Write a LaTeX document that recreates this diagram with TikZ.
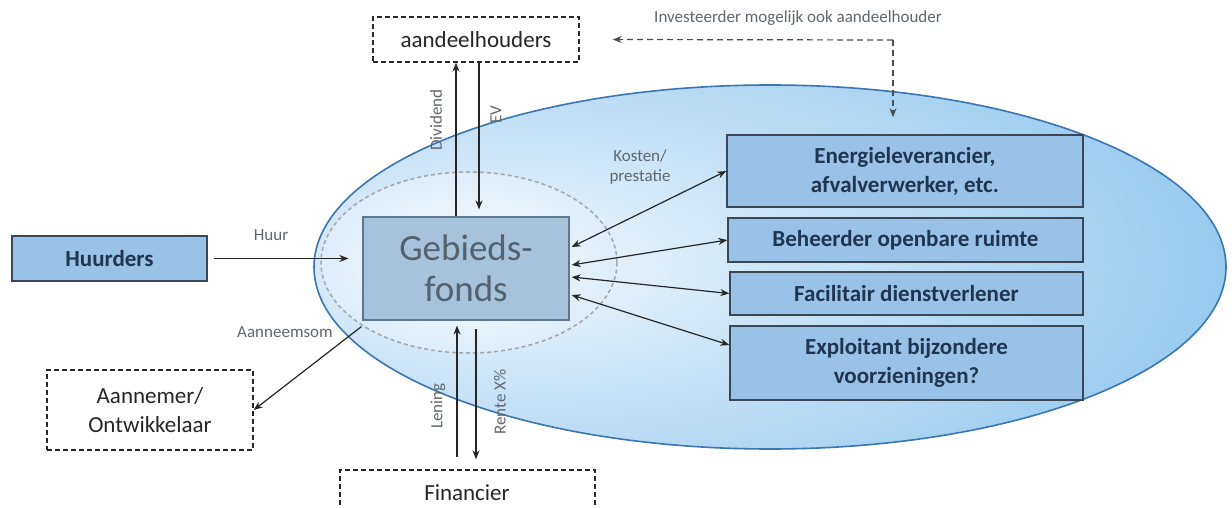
\documentclass[tikz,border=0pt]{standalone}
\usepackage{fontspec}
\setmainfont{Carlito}
\usetikzlibrary{arrows.meta,calc}
\definecolor{boxfill}{HTML}{98C2E8}
\definecolor{boxline}{HTML}{3A4756}
\definecolor{navy}{HTML}{1F3552}
\definecolor{gffill}{HTML}{A7C3DC}
\definecolor{gfline}{HTML}{5F7890}
\definecolor{gftext}{HTML}{56616C}
\definecolor{ellout}{HTML}{96CAF0}
\definecolor{ellin}{HTML}{EEF5FB}
\definecolor{ellline}{HTML}{3A76B2}
\definecolor{lbl}{HTML}{62676D}
\begin{document}
\begin{tikzpicture}[x=1pt,y=-1pt,
  bluebox/.style={draw=boxline,line width=1.4pt,fill=boxfill,text=navy,
     font=\fontsize{23}{29}\selectfont\bfseries,align=center,inner sep=0pt},
  dbox/.style={draw=black!85,line width=1.4pt,dash pattern=on 5pt off 3pt,
     text=black!85,font=\fontsize{23}{29}\selectfont,align=center,inner sep=0pt},
  arr/.style={draw=black!85,line width=1.2pt,-{Stealth[length=9pt,width=7pt]}},
  darr/.style={draw=black!85,line width=1.2pt,{Stealth[length=9pt,width=7pt]}-{Stealth[length=9pt,width=7pt]}},
  dasharr/.style={draw=black!70,line width=1.2pt,dash pattern=on 6pt off 4pt,-{Stealth[length=9pt,width=7pt]}},
  lab/.style={text=lbl,font=\fontsize{17}{20}\selectfont,inner sep=0pt,align=center}]
\useasboundingbox (0,0) rectangle (1232,508);
\fill[white] (0,0) rectangle (1232,508);
% big ellipse
\begin{scope}
  \clip (770,267) ellipse [x radius=456, y radius=182];
  \shade[inner color=ellin, outer color=ellout] (520,265) ellipse [x radius=720, y radius=300];
\end{scope}
\draw[ellline,line width=1.6pt] (770,267) ellipse [x radius=456, y radius=182];
% inner dashed ellipse
\shade[inner color=white, outer color=ellin!80!ellout] (469,262.5) ellipse [x radius=148, y radius=90.5];
\draw[gray!70,line width=1.5pt,dash pattern=on 4pt off 3pt] (469,262.5) ellipse [x radius=148, y radius=90.5];

% nodes
\node[dbox,minimum width=206,minimum height=45] (aand) at (476,39.5) {aandeelhouders};
\node[lab] (inv) at (798,18) {Investeerder mogelijk ook aandeelhouder};
\node[bluebox,minimum width=195,minimum height=45] (hu) at (109.5,258.5) {Huurders};
\node[draw=gfline,line width=1.2pt,fill=gffill,text=gftext,inner sep=0pt,
      minimum width=206,minimum height=103,align=center,
      font=\fontsize{37}{41}\selectfont] (gf) at (466,268.5) {Gebieds-\\fonds};
\node[dbox,minimum width=206,minimum height=80] (aan) at (150,410) {Aannemer/\\Ontwikkelaar};
\node[dbox,minimum width=255,minimum height=60] (fin) at (467.5,500) {};
\node[text=black!85,font=\fontsize{23}{29}\selectfont,inner sep=0pt] (fint) at (467,493) {Financier};
\node[bluebox,minimum width=356,minimum height=72] (en) at (905,171) {Energieleverancier,\\afvalverwerker, etc.};
\node[bluebox,minimum width=355,minimum height=44] (be) at (905.5,240) {Beheerder openbare ruimte};
\node[bluebox,minimum width=353,minimum height=43] (fa) at (906.5,293.5) {Facilitair dienstverlener};
\node[bluebox,minimum width=353,minimum height=74] (ex) at (906.5,363) {Exploitant bijzondere\\voorzieningen?};

% labels
\node[lab] (huur) at (271,235) {Huur};
\node[lab] (ansom) at (285,332) {Aanneemsom};
\node[lab,rotate=90] (divl) at (436,120) {Dividend};
\node[lab,rotate=90] (evl) at (496,115) {EV};
\node[lab,rotate=90] (lenl) at (438,406) {Lening};
\node[lab,rotate=90] (renl) at (500,402) {Rente X\%};
\node[lab] (kost) at (640,167) {Kosten/\\prestatie};

% connectors
\coordinate (corner) at (893,40);
\draw[dasharr] (corner) -- ($(aand.east)+(33,0)$);
\draw[dasharr] (corner) -- ($(en.north -| corner)+(0,-17)$);
\draw[arr] ($(gf.north)+(-10,0)$) -- ($(aand.south)+(-20,0)$);
\draw[arr] ($(aand.south)+(3,0)$) -- ($(gf.north)+(13,-7)$);
\draw[arr] ($(hu.east)+(6,0)$) -- ($(gf.west |- hu.east)+(-14,0)$);
\draw[arr] ($(gf.south west)+(-1,6)$) -- (aan.east);
\draw[arr] ($(fin.north)+(-10.5,-12)$) -- ($(gf.south)+(-9,5)$);
\draw[arr] ($(gf.south)+(10,8)$) -- ($(fin.north)+(8.5,-10)$);
\draw[darr] ($(gf.east)+(2,-21.5)$) -- (en.west);
\draw[darr] ($(gf.east)+(2,-3.5)$) -- (be.west);
\draw[darr] ($(gf.east)+(2,8.5)$) -- (fa.west);
\draw[darr] ($(gf.east)+(2,26.5)$) -- ($(ex.west)+(0,-18)$);
\end{tikzpicture}
\end{document}
